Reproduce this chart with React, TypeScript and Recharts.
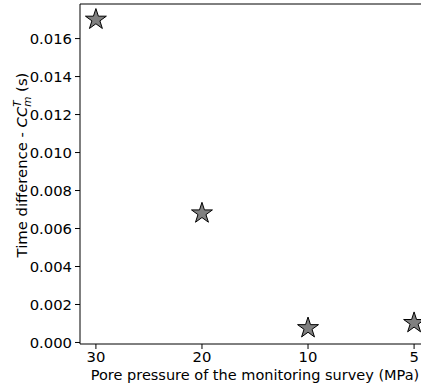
import * as React from "react";
import { ScatterChart, Scatter, XAxis, YAxis, ReferenceLine } from "recharts";

// Survey pore pressures (MPa), shown as evenly spaced categories
const pressureLabels = ["30", "20", "10", "5"];
// Time difference CC_m^T (s) for each survey
const timeDiff = [0.017, 0.0068, 0.00076, 0.00103];
const yTicks = [0, 0.002, 0.004, 0.006, 0.008, 0.01, 0.012, 0.014, 0.016];

const Y_MIN = -0.00008;
const Y_MAX = 0.01782;
const FONT = "DejaVu Sans";
const FS = 14.8;

const data = pressureLabels.map((label, i) => ({ idx: i, label, value: timeDiff[i] }));

// matplotlib-style '*' marker
const StarMarker = (props: any) => {
  const { cx, cy } = props;
  const R = 11;
  const r = R * 0.381966;
  const pts: string[] = [];
  for (let k = 0; k < 10; k++) {
    const a = ((-90 + k * 36) * Math.PI) / 180;
    const rad = k % 2 === 0 ? R : r;
    pts.push(`${cx + rad * Math.cos(a)},${cy + rad * Math.sin(a)}`);
  }
  return <polygon points={pts.join(" ")} fill="#808080" stroke="#000" strokeWidth={1} strokeLinejoin="miter" />;
};

const YLabel = (props: any) => {
  const { viewBox } = props;
  const x = 27;
  const y = viewBox.y + viewBox.height / 2 - 9;
  return (
    <text
      x={x}
      y={y}
      transform={`rotate(-90, ${x}, ${y})`}
      textAnchor="middle"
      fontFamily={FONT}
      fontSize={FS}
      fill="#000"
    >
      <tspan>Time difference - </tspan>
      <tspan fontStyle="italic">CC</tspan>
      <tspan fontStyle="italic" fontSize={10.4} dy={3.7}>m</tspan>
      <tspan fontStyle="italic" fontSize={10.4} dx={-10.1} dy={-9.5}>T</tspan>
      <tspan dx={3.8} dy={5.8}> (s)</tspan>
    </text>
  );
};

const XLabel = (props: any) => {
  const { viewBox } = props;
  return (
    <text
      x={viewBox.x + viewBox.width / 2}
      y={380}
      textAnchor="middle"
      fontFamily={FONT}
      fontSize={14.5}
      fill="#000"
    >
      Pore pressure of the monitoring survey (MPa)
    </text>
  );
};

export default function App() {
  return (
    <div style={{ position: "absolute", left: 0, top: 0, width: 421, height: 388, overflow: "hidden", background: "#fff", fontFamily: FONT }}>
      <ScatterChart width={440} height={388} margin={{ top: 4, right: 10, left: 0, bottom: 0 }}>
        <XAxis
          type="number"
          dataKey="idx"
          domain={[-0.15, 3.15]}
          allowDataOverflow
          ticks={[0, 1, 2, 3]}
          tickFormatter={(v: number) => pressureLabels[v] ?? ""}
          height={44}
          tickSize={5}
          tickMargin={2}
          axisLine={{ stroke: "#000", strokeWidth: 1 }}
          tickLine={{ stroke: "#000", strokeWidth: 1 }}
          tick={{ fontSize: FS, fill: "#000", fontFamily: FONT }}
          label={{ content: <XLabel /> }}
        />
        <YAxis
          type="number"
          dataKey="value"
          domain={[Y_MIN, Y_MAX]}
          allowDataOverflow
          ticks={yTicks}
          tickFormatter={(v: number) => v.toFixed(3)}
          width={80}
          tickSize={5}
          tickMargin={3}
          axisLine={{ stroke: "#000", strokeWidth: 1 }}
          tickLine={{ stroke: "#000", strokeWidth: 1 }}
          tick={{ fontSize: FS, fill: "#000", fontFamily: FONT }}
          label={{ content: <YLabel /> }}
        />
        <ReferenceLine y={Y_MAX} stroke="#000" strokeWidth={1} />
        <Scatter data={data} shape={<StarMarker />} isAnimationActive={false} />
      </ScatterChart>
    </div>
  );
}
